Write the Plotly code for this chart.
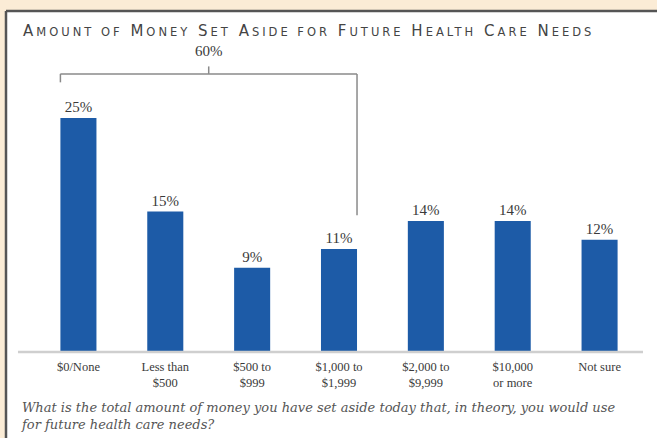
import plotly.graph_objects as go

categories = ["$0/None", "Less than<br>$500", "$500 to<br>$999", "$1,000 to<br>$1,999",
              "$2,000 to<br>$9,999", "$10,000<br>or more", "Not sure"]
values = [25, 15, 9, 11, 14, 14, 12]
labels = [f"{v}%" for v in values]
bracket_total = sum(values[:4])  # 60%

BAR_COLOR = "#1d5ba7"
TEXT_COLOR = "#3a3a3a"
SERIF = "Liberation Serif, DejaVu Serif, serif"

fig = go.Figure(go.Bar(
    x=list(range(len(categories))),
    y=values,
    marker=dict(color=BAR_COLOR, line=dict(width=0)),
    width=0.415,
    text=labels,
    textposition="outside",
    textfont=dict(family=SERIF, size=15, color=TEXT_COLOR),
    cliponaxis=False,
))

half = 0.2075
bx0, bx1 = -half, 3 + half
ytop = 29.7
line = dict(color="#8a8a8a", width=1.5)
PX0, PY1 = -0.0477, 1.1036  # panel left / top edges in paper units
shapes = [
    # white panel
    dict(type="rect", xref="paper", yref="paper", x0=PX0, x1=1.1, y0=-1, y1=PY1,
         fillcolor="white", line=dict(width=0), layer="below"),
    # light baseline under the bars
    dict(type="line", xref="paper", yref="paper", x0=-0.028, x1=1.0, y0=0, y1=0,
         line=dict(color="#cfcfcf", width=2.5)),
    # bracket spanning the first four bars
    dict(type="line", x0=bx0, x1=bx1, y0=ytop, y1=ytop, line=line),
    dict(type="line", x0=bx0, x1=bx0, y0=ytop, y1=28.8, line=line),
    dict(type="line", x0=bx1, x1=bx1, y0=ytop, y1=14.6, line=line),
    dict(type="line", x0=1.5, x1=1.5, y0=ytop, y1=30.5, line=line),
    # dark left and top edges of the panel
    dict(type="line", xref="paper", yref="paper", x0=PX0, x1=1.1, y0=PY1, y1=PY1,
         line=dict(color="#555", width=2.5)),
    dict(type="line", xref="paper", yref="paper", x0=PX0, x1=PX0, y0=PY1, y1=-0.3,
         line=dict(color="#555", width=2.5)),
]

small = "font-size:11.5px"
words = [("A", "MOUNT OF"), ("M", "ONEY"), ("S", "ET"), ("A", "SIDE FOR"),
         ("F", "UTURE"), ("H", "EALTH"), ("C", "ARE"), ("N", "EEDS")]
title = "<span style='letter-spacing:3px'>" + " ".join(
    f"{cap}<span style='{small}'>{rest}</span>" for cap, rest in words) + "</span>"

annotations = [
    dict(text=title, xref="paper", yref="paper", x=-0.023, y=1.04, xanchor="left",
         yanchor="middle", showarrow=False,
         font=dict(family="DejaVu Sans, sans-serif", size=15, color="#444")),
    dict(text=f"{bracket_total}%", x=1.5, y=32.1, xanchor="center", yanchor="middle",
         showarrow=False, font=dict(family=SERIF, size=15, color=TEXT_COLOR)),
    dict(text="<i>What is the total amount of money you have set aside today that, in theory, you would use"
              "<br>for future health care needs?</i>",
         xref="paper", yref="paper", x=-0.026, y=-0.148, xanchor="left", yanchor="top",
         align="left", showarrow=False,
         font=dict(family="DejaVu Serif, serif", size=13, color="#555")),
]

fig.update_layout(
    width=657, height=438,
    margin=dict(l=35, r=14, t=43, b=86),
    paper_bgcolor="#fbecd6",
    plot_bgcolor="white",
    showlegend=False,
    shapes=shapes,
    annotations=annotations,
    bargap=0.585,
)
fig.update_xaxes(
    tickmode="array", tickvals=list(range(len(categories))), ticktext=categories,
    range=[-0.5, 6.5], showgrid=False, zeroline=False, showline=False,
    ticks="", ticklabelstandoff=5,
    tickfont=dict(family=SERIF, size=12.5, color=TEXT_COLOR),
)
fig.update_yaxes(range=[0, 33], visible=False, showgrid=False, zeroline=False)

fig.write_html("out.html")
